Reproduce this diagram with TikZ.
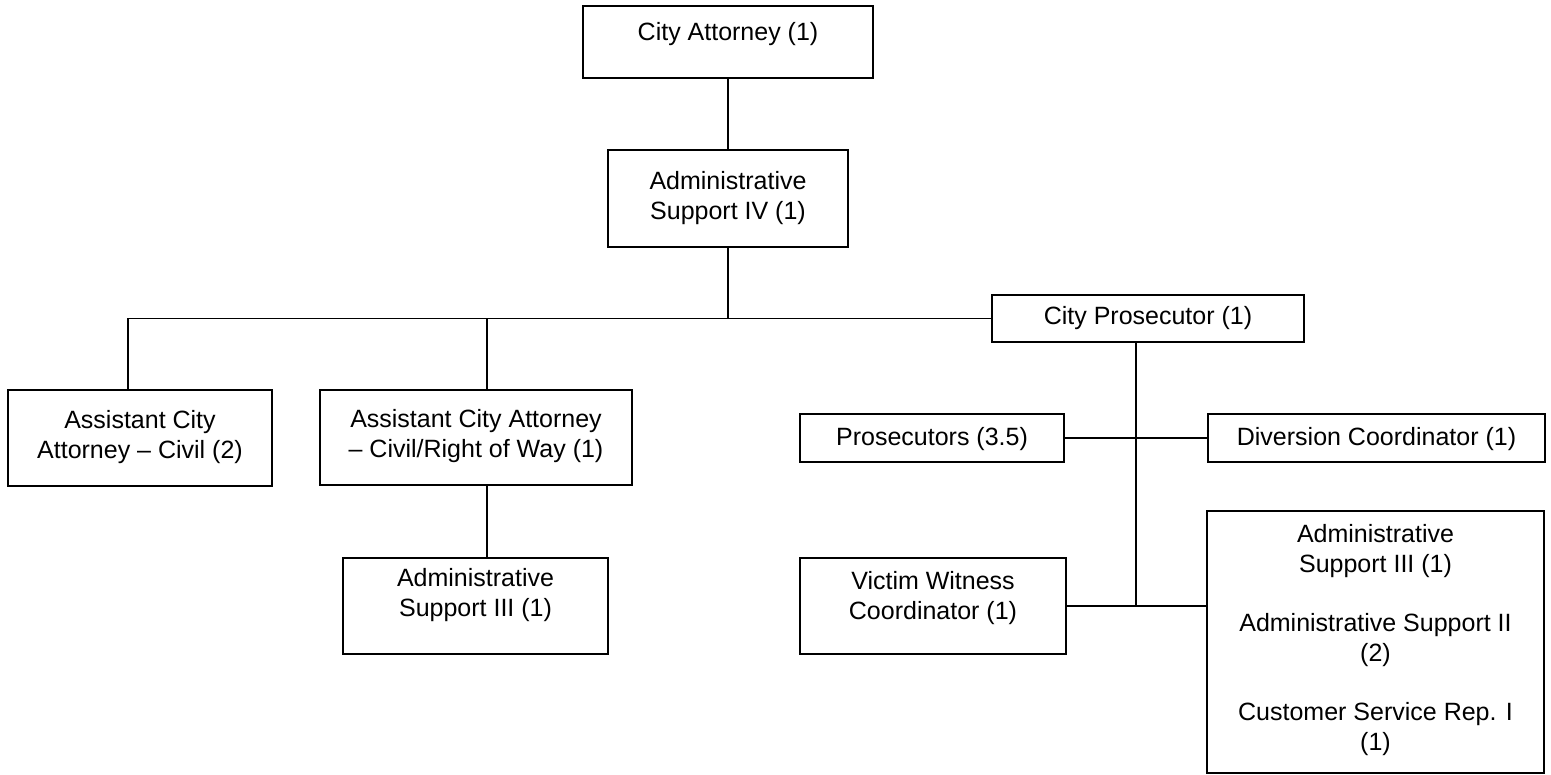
\documentclass[tikz,border=0pt]{standalone}
\usepackage{fontspec}
\setmainfont{Liberation Sans}
\begin{document}
\begin{tikzpicture}[x=1pt,y=-1pt,
  box/.style={draw=black, line width=2.4pt, rectangle, inner sep=0pt},
  txt/.style={inner sep=0pt, align=center, font=\fontsize{25}{30}\selectfont},
  conn/.style={draw=black, line width=1.8pt}]
\useasboundingbox (0,0) rectangle (1551,775);
% boxes
\node[box, minimum width=290pt, minimum height=72pt] (ca) at (728,42) {};
\node[box, minimum width=240pt, minimum height=97pt] (as4) at (728,198.5) {};
\node[box, minimum width=312pt, minimum height=47pt] (cp) at (1148,318.5) {};
\node[box, minimum width=264pt, minimum height=96pt] (acac) at (140,438) {};
\node[box, minimum width=312pt, minimum height=95pt] (acar) at (476,437.5) {};
\node[box, minimum width=265pt, minimum height=96pt] (as3) at (475.5,606) {};
\node[box, minimum width=264pt, minimum height=48pt] (pros) at (932,438) {};
\node[box, minimum width=337pt, minimum height=48pt] (div) at (1376.5,438) {};
\node[box, minimum width=266pt, minimum height=96pt] (vw) at (933,606) {};
\node[box, minimum width=337pt, minimum height=262pt] (big) at (1375.5,642) {};
% texts
\node[txt] (ca-t) at ([yshift=8pt]ca.center) {City Attorney (1)};
\node[txt] (as4-t) at (as4.center) {Administrative\\Support IV (1)};
\node[txt] (cp-t) at (cp.center) {City Prosecutor (1)};
\node[txt] (acac-t) at ([yshift=1pt]acac.center) {Assistant City\\Attorney – Civil (2)};
\node[txt] (acar-t) at ([yshift=1pt]acar.center) {Assistant City Attorney\\– Civil/Right of Way (1)};
\node[txt] (as3-t) at ([yshift=11pt]as3.center) {Administrative\\Support III (1)};
\node[txt] (pros-t) at ([yshift=-1pt]pros.center) {Prosecutors (3.5)};
\node[txt] (div-t) at ([yshift=-1pt]div.center) {Diversion Coordinator (1)};
\node[txt] (vw-t) at ([yshift=8pt]vw.center) {Victim Witness\\Coordinator (1)};
\node[txt] (big-t) at ([yshift=2pt]big.center) {Administrative\\Support III (1)\\[29pt]Administrative Support II\\(2)\\[29pt]Customer Service Rep. I\\(1)};
% junctions
\coordinate (jA) at (128,318.5);
\coordinate (jB) at (487,318.5);
\coordinate (jC) at (728,318.5);
\coordinate (jP) at (1136,606);
% connectors
\draw[conn] (ca.south) -- (as4.north);
\draw[conn] (as4.south) -- (jC);
\draw[conn] (cp.west) -- (jA) -- (jA |- acac.north);
\draw[conn] (jB) -- (jB |- acar.north);
\draw[conn] (jB |- acar.south) -- (jB |- as3.north);
\draw[conn] (jP |- cp.south) -- (jP);
\draw[conn] (pros.east) -- (div.west);
\draw[conn] (vw.east) -- (vw.east -| big.west);
\end{tikzpicture}
\end{document}
